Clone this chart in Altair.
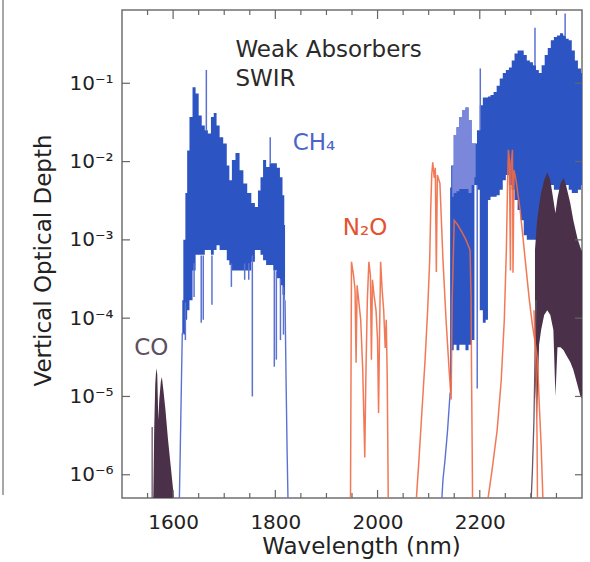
import altair as alt
import pandas as pd

# ---------------- values (log10 of vertical optical depth) --------------
# CH4 band near 1.65 um: wavelength (nm), log10 upper / lower envelope of the dense lines
ch4a_wl  = [1618,1622,1626,1629,1635,1641,1647,1653,1659,1665,1671,1677,1682,1688,1694,1702,1708,1712,
            1718,1726,1734,1741,1749,1757,1763,1769,1773,1779,1785,1792,1800,1806,1812,1816,1819]
ch4a_top = [-3.77,-3.00,-2.40,-1.86,-1.43,-1.05,-1.13,-1.41,-1.54,-1.60,-1.64,-1.43,-1.38,-1.54,-1.69,-1.77,-2.05,-2.24,
            -1.98,-1.89,-2.11,-2.28,-2.40,-2.53,-2.58,-2.37,-2.20,-1.98,-2.07,-2.02,-2.02,-2.08,-2.20,-2.43,-2.81]
ch4a_bot = [-4.19,-4.21,-4.02,-3.90,-3.77,-3.39,-3.19,-3.19,-3.19,-3.13,-3.13,-3.19,-3.13,-3.07,-3.13,-3.13,-3.26,-3.32,
            -3.39,-3.39,-3.39,-3.39,-3.39,-3.28,-3.13,-3.13,-3.19,-3.26,-3.32,-3.32,-3.39,-3.49,-3.58,-3.70,-3.77]

# CH4 band near 2.3 um
ch4b_wl  = [2142,2146,2152,2157,2163,2169,2175,2181,2187,2192,2197,2203,2209,2214,2218,2224,2230,2236,2242,2248,
            2254,2260,2265,2271,2277,2283,2289,2295,2301,2307,2313,2318,2324,2330,2336,2342,2348,2354,2360,2366,
            2371,2377,2383,2389,2395,2401]
ch4b_top = [-2.33,-2.05,-1.66,-1.56,-1.43,-1.34,-1.31,-1.47,-1.77,-1.77,-1.60,-1.28,-1.18,-1.18,-1.17,-1.15,-1.11,-1.03,-0.94,-0.87,
            -0.83,-0.80,-0.71,-0.62,-0.58,-0.58,-0.64,-0.71,-0.73,-0.77,-0.83,-0.87,-0.77,-0.64,-0.55,-0.45,-0.41,-0.39,-0.36,-0.39,
            -0.43,-0.45,-0.58,-0.71,-0.81,-0.87]
ch4b_bot = [-4.95,-4.41,-4.34,-4.41,-4.34,-4.34,-4.41,-4.34,-4.28,-2.30,-2.36,-3.90,-4.06,-4.02,-2.49,-2.45,-2.45,-2.43,-2.36,-2.24,
            -2.17,-2.30,-2.36,-2.49,-2.62,-2.75,-2.94,-3.00,-3.00,-3.00,-2.94,-2.75,-2.49,-2.36,-2.30,-2.30,-2.36,-2.36,-2.36,-2.30,
            -2.30,-2.36,-2.40,-2.40,-2.36,-2.30]

# lighter (isotopic) CH4 lines on top of the 2.3 um band
ch4l_wl  = [2146,2152,2157,2163,2169,2175,2181,2187,2192]
ch4l_top = [-2.05,-1.66,-1.56,-1.43,-1.34,-1.31,-1.47,-1.77,-1.77]
ch4l_bot = [-2.45,-2.40,-2.38,-2.35,-2.35,-2.35,-2.40,-2.30,-2.20]

# thin CH4 band wings (edges of the line clusters)
ch4e_seg = ["a"] * 4 + ["b"] * 4 + ["c"] * 5
ch4e_wl  = [1612,1614,1616,1618, 1819,1821,1823,1825, 2125,2128,2132,2137,2142]
ch4e_lg  = [-6.4,-5.68,-4.92,-4.19, -3.77,-4.79,-5.68,-6.4, -6.4,-6.06,-5.81,-5.43,-4.95]

# isolated strong / weak CH4 lines: wavelength, log10 low end, log10 high end
ch4s_wl = [1665,1790,1755,1798,1802,1655,1676,1641,1659,1714,1810,1816,1624,1740,1748,2201,2195,2308,2367]
ch4s_lo = [-1.60,-2.02,-5.00,-4.62,-4.53,-4.06,-3.83,-3.73,-4.02,-3.60,-4.28,-4.21,-4.28,-3.51,-3.51,-1.60,-4.90,-0.77,-0.39]
ch4s_hi = [-0.83,-1.69,-3.20,-3.39,-3.40,-3.20,-3.20,-3.30,-3.20,-3.30,-3.50,-3.60,-3.80,-3.30,-3.30,-0.81,-2.30,-0.29,-0.11]

# N2O spectrum traces
n2o_seg = ["1"] * 28 + ["2"] * 28 + ["3"] * 26 + ["4"] * 4
n2o_wl = [1947,1949,1953,1956,1958,1960,1963,1967,1971,1975,1977,1980,1983,1986,1988,1990,1993,1997,2000,2002,
          2004,2006,2009,2012,2015,2017,2019,2021,
          2075,2081,2087,2093,2098,2102,2104,2106,2108,2111,2113,2115,2117,2122,2128,2134,2140,2144,2146,2150,
          2157,2165,2173,2181,2183,2184,2185,2186,
          2214,2224,2234,2242,2248,2252,2254.5,2256,2258,2260,2261,2264,2265,2267,2271,2275,2279,2285,2291,2297,
          2303,2309,2313,2316,2320,2324,
          2306,2310,2312,2313]
n2o_lg = [-6.4,-3.28,-3.45,-3.64,-4.57,-3.58,-3.77,-4.02,-4.66,-5.78,-4.79,-3.77,-3.28,-3.45,-4.53,-3.51,-3.70,-3.90,-4.28,-5.21,
          -4.15,-3.28,-3.64,-3.90,-4.38,-4.02,-4.79,-6.4,
          -6.4,-5.81,-5.17,-4.53,-3.90,-3.26,-2.62,-2.17,-2.01,-2.21,-2.08,-3.41,-2.17,-2.28,-3.26,-4.02,-4.66,-5.04,-3.77,-2.75,
          -2.81,-2.90,-3.00,-3.13,-3.77,-4.79,-5.55,-6.4,
          -6.4,-5.94,-5.43,-4.79,-4.02,-3.13,-2.24,-1.85,-1.98,-3.39,-2.05,-1.85,-3.42,-2.11,-2.24,-2.43,-2.62,-3.00,-3.39,-3.77,
          -4.09,-4.34,-4.53,-5.04,-5.62,-6.4,
          -3.90,-4.60,-5.50,-6.4]

# CO bands
co1_wl  = [1561,1563,1565,1567,1569,1571,1573,1576,1578,1581,1585,1590,1595,1600,1603]
co1_top = [-6.4,-5.43,-4.85,-4.64,-4.72,-5.30,-5.04,-4.81,-4.75,-4.92,-5.17,-5.55,-5.87,-6.19,-6.4]
co2_wl  = [2308,2312,2316,2320,2326,2332,2338,2344,2348,2352,2358,2364,2369,2377,2383,2391,2397,2403]
co2_top = [-3.13,-2.77,-2.56,-2.40,-2.24,-2.14,-2.24,-2.49,-2.66,-2.47,-2.28,-2.21,-2.31,-2.53,-2.75,-2.98,-3.10,-3.19]
co2_bot = [-4.79,-5.30,-4.34,-4.15,-3.96,-3.90,-3.96,-4.15,-5.00,-4.37,-4.37,-4.41,-4.47,-4.56,-4.66,-4.85,-5.00,-5.04]
coe_seg = ["e"] * 5 + ["f"] * 2
coe_wl  = [2300,2303,2306,2308,2310, 1559,1559]
coe_lg  = [-6.4,-5.94,-5.30,-4.53,-3.77, -6.4,-5.39]

# annotations: text, wavelength of left edge, log10 of baseline, colour
ann_text = ["Weak Absorbers", "SWIR", "CH\u2084", "N\u2082O", "CO"]
ann_wl   = [1722, 1722, 1834, 1932, 1524]
ann_lg   = [-0.668, -1.038, -1.855, -2.939, -4.469]
ann_col  = ["#2a2a2a", "#2a2a2a", "#4A66C8", "#E4522E", "#5E4F5E"]

# axes
x_major = [1600, 1800, 2000, 2200]
x_minor = [1550, 1650, 1700, 1750, 1850, 1900, 1950, 2050, 2100, 2150, 2250, 2300, 2350]
y_major = [1e-6, 1e-5, 1e-4, 1e-3, 1e-2, 1e-1]

FONT = "DejaVu Sans"
W, H = 460, 488
BLUE, LIGHT, LAV, ORANGE, DARK = "#2C54C3", "#5C72D3", "#7B87DA", "#EF6A45", "#4A3048"
FLOOR = 10 ** -6.6

xs = alt.Scale(domain=[1500, 2400], nice=False, zero=False)
ys = alt.Scale(type="log", domain=[10 ** -6.297, 10 ** -0.064], nice=False)

label_expr = ("'10' + ['\u207b\u00b9','\u207b\u00b2','\u207b\u00b3','\u207b\u2074','\u207b\u2075','\u207b\u2076']"
              "[round(-log(datum.value)/LN10) - 1]")

x_axis = alt.Axis(
    values=x_major, format="d", title="Wavelength (nm)", ticks=False, tickSize=0, domain=False, grid=False,
    labelFontSize=20, labelPadding=14, labelFlush=False, titleFontSize=23,
    titleX=239, titleY=55, titleAlign="center", titleBaseline="alphabetic")
y_axis = alt.Axis(
    values=y_major, labelExpr=label_expr, title="Vertical Optical Depth", ticks=False, tickSize=0,
    domain=False, grid=False, labelFontSize=20, labelPadding=9, titleFontSize=23,
    titleX=-72, titleY=250, titleAngle=270, titleAlign="center", titleBaseline="alphabetic")


def p(v):
    return [10 ** a for a in v]


def X(field="wl"):
    return alt.X(f"{field}:Q", scale=xs, axis=x_axis)


def Y(field):
    return alt.Y(f"{field}:Q", scale=ys, axis=y_axis)


ch4a = pd.DataFrame({"wl": ch4a_wl, "top": p(ch4a_top), "bot": p(ch4a_bot)})
ch4b = pd.DataFrame({"wl": ch4b_wl, "top": p(ch4b_top), "bot": p(ch4b_bot)})
ch4l = pd.DataFrame({"wl": ch4l_wl, "top": p(ch4l_top), "bot": p(ch4l_bot)})
ch4e = pd.DataFrame({"seg": ch4e_seg, "wl": ch4e_wl, "v": p(ch4e_lg), "i": range(len(ch4e_wl))})
ch4s = pd.DataFrame({"wl": ch4s_wl, "lo": p(ch4s_lo), "hi": p(ch4s_hi)})
n2o = pd.DataFrame({"seg": n2o_seg, "wl": n2o_wl, "v": p(n2o_lg), "i": range(len(n2o_wl))})
co1 = pd.DataFrame({"wl": co1_wl, "top": p(co1_top)})
co2 = pd.DataFrame({"wl": co2_wl, "top": p(co2_top), "bot": p(co2_bot)})
coe = pd.DataFrame({"seg": coe_seg, "wl": coe_wl, "v": p(coe_lg), "i": range(len(coe_wl))})
ann = pd.DataFrame({"t": ann_text, "wl": ann_wl, "v": p(ann_lg), "c": ann_col})

ch4a_area = alt.Chart(ch4a).mark_area(color=BLUE, clip=True, interpolate="step").encode(
    x=X(), y=Y("top"), y2="bot:Q")
ch4b_area = alt.Chart(ch4b).mark_area(color=BLUE, clip=True, interpolate="step").encode(
    x=X(), y=Y("top"), y2="bot:Q")
ch4l_area = alt.Chart(ch4l).mark_area(color=LAV, clip=True, interpolate="step").encode(
    x=X(), y=Y("top"), y2="bot:Q")
ch4_edges = alt.Chart(ch4e).mark_line(color=LIGHT, strokeWidth=1.4, clip=True).encode(
    x=X(), y=Y("v"), detail="seg:N", order="i:Q")
ch4_spikes = alt.Chart(ch4s).mark_rule(color=LIGHT, strokeWidth=1.5, clip=True).encode(
    x=X(), y=Y("lo"), y2="hi:Q")

co1_area = alt.Chart(co1).mark_area(color=DARK, clip=True).encode(x=X(), y=Y("top"), y2=alt.datum(FLOOR))
co2_area = alt.Chart(co2).mark_area(color=DARK, clip=True).encode(x=X(), y=Y("top"), y2="bot:Q")
co_lines = alt.Chart(coe).mark_line(color="#6A5668", strokeWidth=1.3, clip=True).encode(
    x=X(), y=Y("v"), detail="seg:N", order="i:Q")

n2o_lines = alt.Chart(n2o).mark_line(color=ORANGE, strokeWidth=1.5, opacity=0.9, clip=True).encode(
    x=X(), y=Y("v"), detail="seg:N", order="i:Q")

labels = alt.Chart(ann).mark_text(align="left", baseline="alphabetic", font=FONT, fontSize=23).encode(
    x=X(), y=Y("v"), text="t:N", color=alt.Color("c:N", scale=None))

TICK = "#666666"
xt_major = pd.DataFrame({"wl": x_major})
xt_minor = pd.DataFrame({"wl": x_minor})
yt = pd.DataFrame({"v": y_major})
ticks = [
    alt.Chart(xt_major).mark_rule(color=TICK, strokeWidth=1.2).encode(x=X(), y=alt.value(H), y2=alt.value(H - 8)),
    alt.Chart(xt_minor).mark_rule(color=TICK, strokeWidth=1.2).encode(x=X(), y=alt.value(H), y2=alt.value(H - 5)),
    alt.Chart(xt_major).mark_rule(color=TICK, strokeWidth=1.2).encode(x=X(), y=alt.value(0), y2=alt.value(9)),
    alt.Chart(xt_minor).mark_rule(color=TICK, strokeWidth=1.2).encode(x=X(), y=alt.value(0), y2=alt.value(5)),
    alt.Chart(yt).mark_rule(color=TICK, strokeWidth=1.2).encode(y=Y("v"), x=alt.value(0), x2=alt.value(8)),
    alt.Chart(yt).mark_rule(color=TICK, strokeWidth=1.2).encode(y=Y("v"), x=alt.value(W), x2=alt.value(W - 7)),
]

# right frame edge of the neighbouring (cropped) panel at the far left of the picture
neighbour = alt.Chart(pd.DataFrame({"k": [0]})).mark_rule(color="#8a8a8a", strokeWidth=1.5).encode(
    x=alt.value(-119), y=alt.value(-10), y2=alt.value(485))

chart = alt.layer(
    ch4a_area, ch4b_area, ch4l_area, ch4_edges, ch4_spikes,
    co1_area, co2_area, co_lines, n2o_lines, labels, *ticks, neighbour
).properties(
    width=W, height=H,
    padding={"left": 122, "top": 10, "right": 8, "bottom": 64},
    autosize=alt.AutoSizeParams(type="none"),
    background="white",
).configure_view(
    stroke="#707070", strokeWidth=1.5
).configure_axis(
    labelFont=FONT, titleFont=FONT, labelColor="#222222", titleColor="#222222", titleFontWeight="normal"
)

chart.save("out.html", embed_options={"renderer": "svg", "actions": False})
